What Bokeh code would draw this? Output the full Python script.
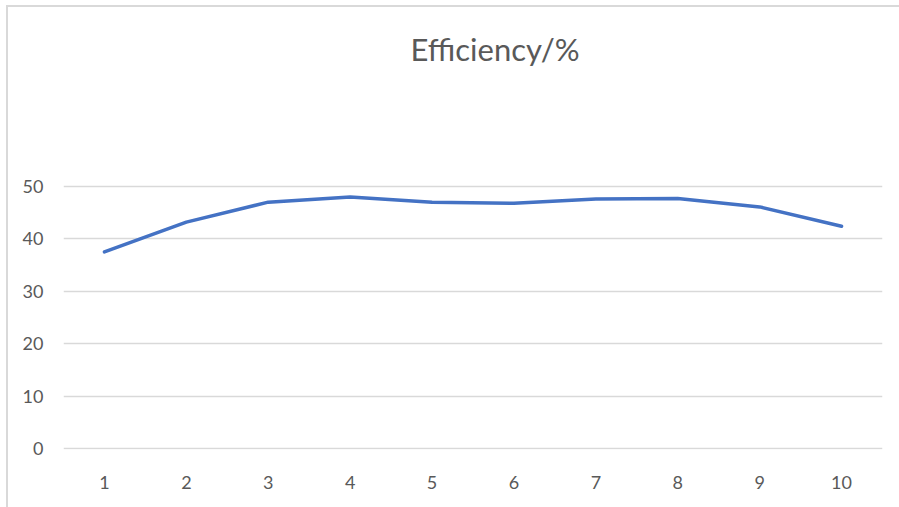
from bokeh.plotting import figure
from bokeh.models import FixedTicker, Label
from bokeh.embed import file_html
from bokeh.resources import INLINE

categories = ["1", "2", "3", "4", "5", "6", "7", "8", "9", "10"]
efficiency = [37.5, 43.2, 47.0, 48.0, 47.0, 46.8, 47.6, 47.7, 46.1, 42.4]
y_ticks = [0, 10, 20, 30, 40, 50]
title_text = "Efficiency/%"

p = figure(x_range=categories, y_range=(-0.2, 84.15),
           frame_width=819, frame_height=442,
           min_border_left=55, min_border_right=17,
           min_border_top=0, min_border_bottom=58,
           output_backend="svg", toolbar_location=None)
p.stylesheets = [":host { margin-left: 6px; margin-top: 5px; "
                 "border-left: 2px solid #d9d9d9; border-top: 2px solid #d9d9d9; }"]
p.outline_line_color = None
p.background_fill_color = "white"
p.border_fill_color = "white"

p.line(categories, efficiency, line_color="#4472C4", line_width=3.5,
       line_join="round", line_cap="round")

p.xgrid.grid_line_color = None
p.ygrid.grid_line_color = "#d9d9d9"
p.ygrid.grid_line_width = 1.5
p.yaxis.ticker = FixedTicker(ticks=y_ticks)
for ax in (p.xaxis, p.yaxis):
    ax.axis_line_color = None
    ax.major_tick_line_color = None
    ax.minor_tick_line_color = None
    ax.major_label_text_font = "Lato"
    ax.major_label_text_font_size = "18px"
    ax.major_label_text_color = "#595959"
p.yaxis.major_label_standoff = 14
p.xaxis.major_label_standoff = 20
p.x_range.range_padding = 0

p.add_layout(Label(x=5.27, y=76.3, text=title_text, text_font="Lato",
                   text_font_size="31px", text_color="#595959",
                   text_align="center", text_baseline="alphabetic"))

open("out.html", "w").write(file_html(p, INLINE))
